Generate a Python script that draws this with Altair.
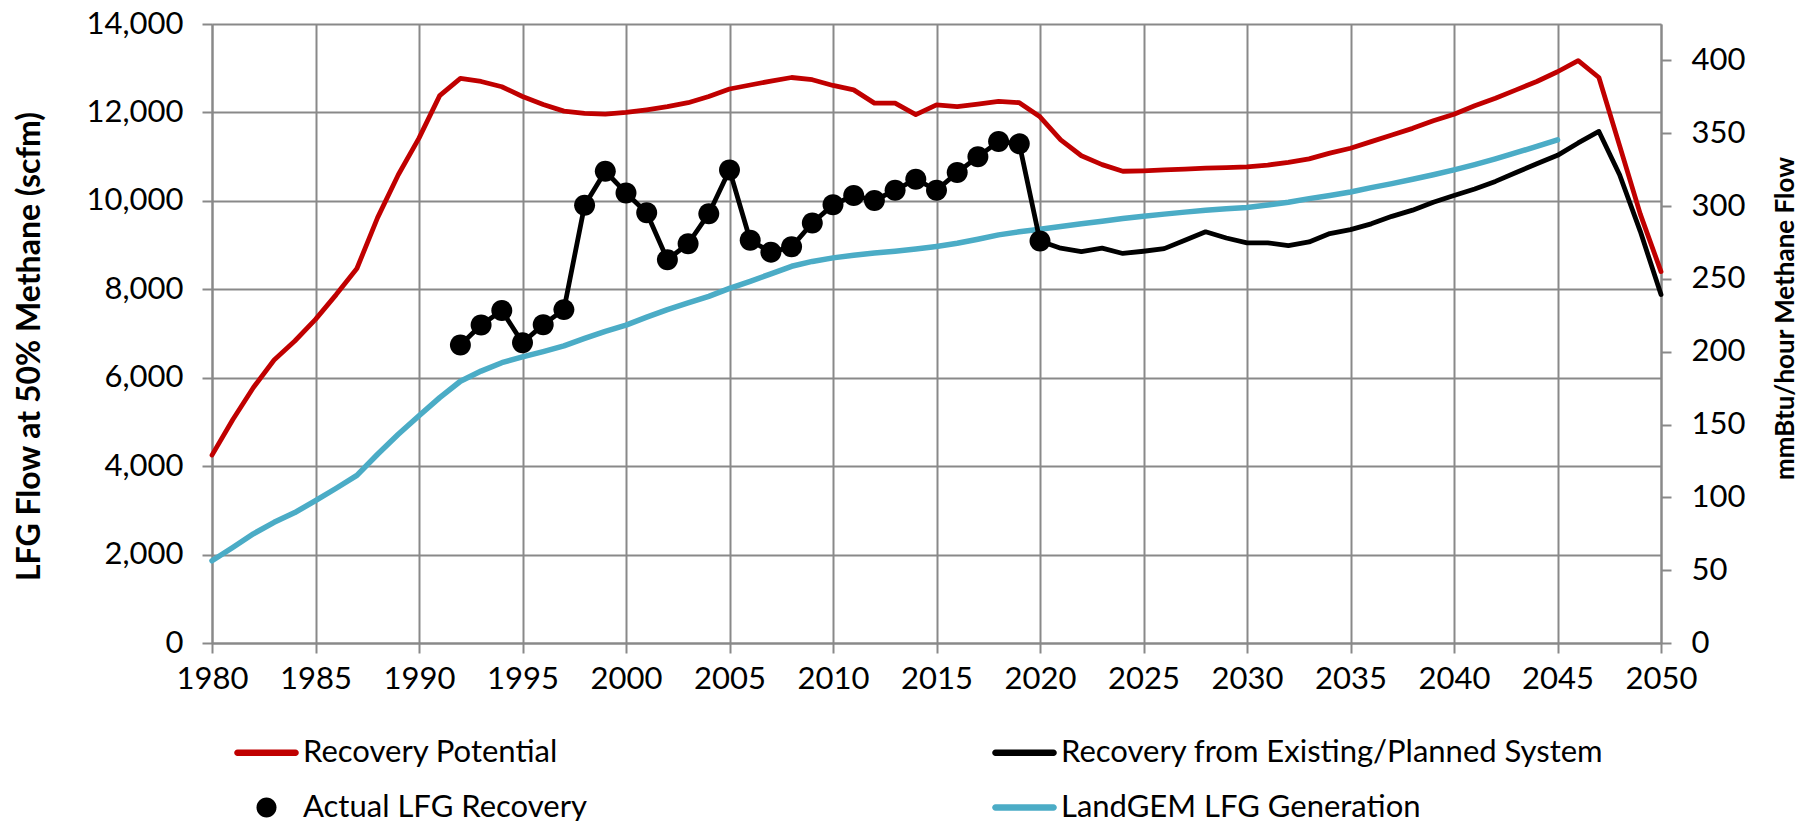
import altair as alt
import pandas as pd

# ---------------- data ----------------
years_all = list(range(1980, 2051))
recovery_potential = [
    4250, 5050, 5780, 6400, 6830, 7320, 7880, 8470, 9620, 10590,
    11420, 12380, 12770, 12700, 12580, 12360, 12180, 12030, 11980, 11960,
    12000, 12060, 12130, 12220, 12360, 12530, 12620, 12710, 12790, 12740,
    12610, 12510, 12210, 12210, 11950, 12170, 12130, 12190, 12250, 12220,
    11900, 11380, 11020, 10820, 10670, 10680, 10700, 10720, 10740, 10750,
    10770, 10810, 10870, 10950, 11080, 11190, 11340, 11490, 11640, 11810,
    11960, 12150, 12320, 12510, 12700, 12920, 13170, 12790, 11250, 9700,
    8400,
]

landgem_years = list(range(1980, 2046))
landgem = [
    1860, 2160, 2470, 2730, 2950, 3220, 3500, 3790, 4270, 4720,
    5140, 5550, 5920, 6150, 6340, 6470, 6590, 6720, 6890, 7050,
    7190, 7370, 7540, 7690, 7840, 8020, 8180, 8350, 8520, 8630,
    8710, 8770, 8820, 8860, 8910, 8970, 9040, 9130, 9230, 9300,
    9360, 9420, 9480, 9540, 9600, 9650, 9700, 9745, 9790, 9820,
    9850, 9905, 9970, 10050, 10120, 10200, 10300, 10390, 10490, 10590,
    10700, 10820, 10950, 11090, 11230, 11380,
]

actual_years = list(range(1992, 2021))
actual = [
    6740, 7190, 7520, 6790, 7200, 7540, 9900, 10670, 10180, 9730,
    8670, 9030, 9710, 10700, 9110, 8840, 8960, 9500, 9910, 10120,
    10010, 10240, 10490, 10240, 10640, 11000, 11340, 11290, 9090,
]

planned_years = list(range(2021, 2051))
planned = [
    8930, 8850, 8930, 8810, 8860, 8920, 9110, 9300, 9160, 9050,
    9050, 8990, 9070, 9260, 9350, 9480, 9650, 9790, 9970, 10120,
    10270, 10440, 10640, 10840, 11030, 11310, 11570, 10590, 9310, 7880,
]

x_ticks = list(range(1980, 2051, 5))
y_ticks = list(range(0, 14001, 2000))
y2_ticks = list(range(0, 401, 50))

S_RP = "Recovery Potential"
S_PL = "Recovery from Existing/Planned System"
S_AC = "Actual LFG Recovery"
S_LG = "LandGEM LFG Generation"
# legend order (filled column by column: RP, AC | PL, LG)
series_order = [S_RP, S_AC, S_PL, S_LG]
series_colors = ["#C00000", "#000000", "#000000", "#4BACC6"]

SCFM_TO_MMBTU = 0.5 * 1012 * 60 / 1e6  # 50% methane, 1012 Btu/cf, per hour

# ---------------- table ----------------
rows = []
for yr, v in zip(years_all, recovery_potential):
    rows.append({"year": yr, "value": v, "series": S_RP})
for yr, v in zip(landgem_years, landgem):
    rows.append({"year": yr, "value": v, "series": S_LG})
for yr, v in zip(actual_years + planned_years, actual + planned):
    rows.append({"year": yr, "value": v, "series": S_PL})
for yr, v in zip(actual_years, actual):
    rows.append({"year": yr, "value": v, "series": S_AC})
df = pd.DataFrame(rows)

FONT = "Lato"
GRID = "#898989"

line_path = "M-2.9,-0.33H2.9A0.33,0.33,0,0,1,2.9,0.33H-2.9A0.33,0.33,0,0,1,-2.9,-0.33Z"
circle_path = "M0,-1A1,1,0,1,1,0,1A1,1,0,1,1,0,-1Z"

base = alt.Chart(df)

x_enc = alt.X(
    "year:Q",
    scale=alt.Scale(domain=[1980, 2050], nice=False, zero=False),
    axis=alt.Axis(values=x_ticks, format="d", title=None, grid=True,
                  labelPadding=11, tickSize=10, labelOverlap=False, labelFlush=False),
)

y_enc = alt.Y(
    "value:Q",
    scale=alt.Scale(domain=[0, 14000], nice=False),
    axis=alt.Axis(values=y_ticks, format=",.0f", grid=True, tickSize=10,
                  labelPadding=19, labelOverlap=False, labelFlush=False,
                  title="LFG Flow at 50% Methane (scfm)", titleFontSize=32,
                  titleAngle=270, titleX=-183, titleY=322,
                  titleAlign="center", titleBaseline="middle"),
)

blue = base.transform_filter(alt.datum.series == S_LG).mark_line(
    color="#4BACC6", strokeWidth=5.5, strokeJoin="round", strokeCap="round"
).encode(x=x_enc, y=y_enc, order="year:Q")

red = base.transform_filter(alt.datum.series == S_RP).mark_line(
    color="#C00000", strokeWidth=4.8, strokeJoin="round", strokeCap="round"
).encode(x=x_enc, y=y_enc, order="year:Q")

black = base.transform_filter(alt.datum.series == S_PL).mark_line(
    color="#000000", strokeWidth=4.8, strokeJoin="round", strokeCap="round"
).encode(x=x_enc, y=y_enc, order="year:Q")

legend = alt.Legend(
    title=None, orient="none", legendX=17, legendY=713,
    columns=2, columnPadding=400, rowPadding=23, padding=0,
    symbolSize=400, symbolOffset=22, symbolStrokeWidth=0,
    labelOffset=21, labelFont=FONT, labelFontSize=31, labelColor="#000000",
    labelLimit=900, labelBaseline="middle",
)

dots = base.transform_filter(alt.datum.series == S_AC).mark_point(
    filled=True, size=440, opacity=1, strokeWidth=0
).encode(
    x=x_enc, y=y_enc,
    color=alt.Color("series:N", scale=alt.Scale(domain=series_order, range=series_colors), legend=legend),
    shape=alt.Shape("series:N", scale=alt.Scale(domain=series_order,
                    range=[line_path, circle_path, line_path, line_path]), legend=legend),
)

right = base.transform_filter(alt.datum.series == S_RP).transform_calculate(
    mm=f"datum.value * {SCFM_TO_MMBTU}"
).mark_line(strokeOpacity=0).encode(
    x=x_enc,
    y=alt.Y("mm:Q",
            scale=alt.Scale(domain=[0, 14000 * SCFM_TO_MMBTU], nice=False),
            axis=alt.Axis(orient="right", values=y2_ticks, format="d", grid=False, tickSize=10,
                          labelPadding=20, labelOverlap=False, labelFlush=False,
                          title="mmBtu/hour Methane Flow", titleFontSize=26,
                          titleAngle=270, titleX=124, titleY=294,
                          titleAlign="center", titleBaseline="middle")),
)

left = alt.layer(blue, red, black, dots)

chart = alt.layer(left, right).resolve_scale(y="independent").properties(
    width=1449, height=619,
    padding={"left": 204, "top": 16, "right": 149, "bottom": 178},
    autosize=alt.AutoSizeParams(type="none"),
).configure_view(stroke=None).configure_axis(
    domainColor=GRID, domainWidth=2, tickColor=GRID, tickWidth=2,
    gridColor=GRID, gridWidth=2, gridOpacity=1,
    labelFont=FONT, labelFontSize=31, labelColor="#000000",
    titleFont=FONT, titleFontWeight="bold", titleColor="#000000",
)

chart.save("out.html", embed_options={"renderer": "svg", "actions": False})
